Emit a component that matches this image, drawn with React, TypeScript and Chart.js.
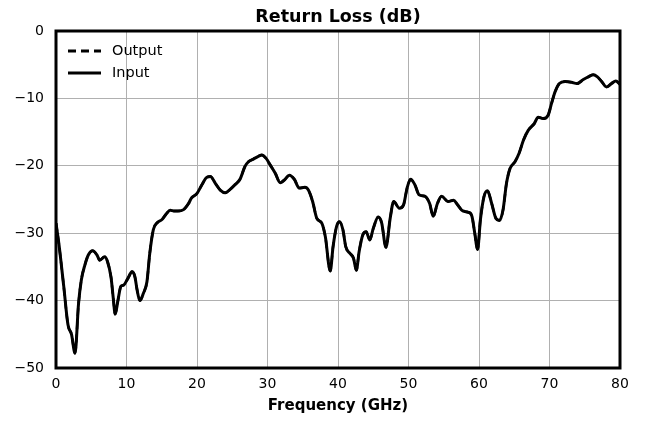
import React, { useEffect, useRef } from "react";
import { Chart, registerables } from "chart.js";

Chart.register(...registerables);

const chartTitle = "Return Loss (dB)";
const xAxisTitle = "Frequency (GHz)";
const seriesNames = ["Output", "Input"];
const xTicks = [0, 10, 20, 30, 40, 50, 60, 70, 80];
const yTicks = [0, -10, -20, -30, -40, -50];

const freq = [
  0, 0.4, 1.1, 1.7, 2.2, 2.7, 3.2, 3.6, 4.1, 4.6, 5.2, 5.8, 6.2, 6.9, 7.3, 7.8, 8.1, 8.4, 8.8, 9.2,
  9.6, 10.2, 10.8, 11.2, 11.5, 11.9, 12.4, 12.9, 13.3, 13.8, 14.4, 15.0, 15.6, 16.2, 16.7, 17.3,
  18.1, 18.8, 19.2, 20.0, 20.7, 21.4, 21.9, 22.6, 23.3, 24.0, 24.7, 25.4, 26.1, 26.8, 27.3, 28.0,
  28.7, 29.2, 29.8, 30.4, 31.1, 31.8, 32.4, 33.1, 33.8, 34.5, 35.3, 35.8, 36.4, 37.0, 37.7, 38.2,
  38.9, 39.3, 39.8, 40.2, 40.7, 41.1, 41.7, 42.2, 42.6, 43.0, 43.5, 44.0, 44.5, 45.0, 45.7, 46.2,
  46.8, 47.4, 47.9, 48.7, 49.3, 49.8, 50.3, 50.9, 51.5, 52.3, 53.0, 53.5, 54.1, 54.7, 55.6, 56.4,
  56.9, 57.7, 58.5, 59.0, 59.4, 59.8, 60.2, 60.7, 61.2, 61.8, 62.4, 62.9, 63.4, 63.9, 64.4, 65.1,
  65.7, 66.3, 67.0, 67.8, 68.4, 69.1, 69.8, 70.3, 70.8, 71.4, 72.2, 73.1, 73.9, 74.8, 75.5, 76.2,
  76.8, 77.4, 78.1, 78.8, 79.4, 80,
];

const inputLoss = [
  -28.5, -31.5, -37.9, -43.6, -45.0, -47.8, -40.4, -36.9, -34.7, -33.2, -32.6, -33.2, -34.0, -33.5,
  -34.2, -36.5, -39.4, -42.0, -39.9, -37.9, -37.7, -36.7, -35.7, -36.5, -38.4, -40.0, -38.9, -37.2,
  -33.0, -29.5, -28.4, -28.0, -27.2, -26.6, -26.7, -26.7, -26.5, -25.6, -24.8, -24.1, -22.8, -21.7,
  -21.6, -22.6, -23.6, -24.0, -23.5, -22.8, -22.0, -20.1, -19.4, -19.0, -18.6, -18.4, -18.9, -19.9,
  -21.1, -22.5, -22.1, -21.4, -22.0, -23.3, -23.2, -23.6, -25.3, -27.8, -28.5, -30.5, -35.6, -32.0,
  -29.0, -28.3, -29.5, -32.0, -33.0, -33.7, -35.5, -32.7, -30.3, -29.8, -31.0, -29.3, -27.6, -28.5,
  -32.1, -27.8, -25.3, -26.3, -25.8, -23.3, -22.0, -22.8, -24.3, -24.5, -25.6, -27.5, -25.6, -24.5,
  -25.3, -25.1, -25.7, -26.7, -26.9, -27.5, -30.0, -32.4, -28.0, -24.6, -23.7, -25.6, -27.8, -28.1,
  -26.6, -22.6, -20.4, -19.4, -18.1, -16.2, -14.7, -13.8, -12.8, -13.0, -12.5, -10.7, -9.0, -7.8,
  -7.5, -7.6, -7.8, -7.2, -6.8, -6.5, -6.8, -7.5, -8.3, -7.8, -7.4, -7.9,
];

// Output trace lies under the Input trace in the reference (not separately visible)
const outputLoss = inputLoss.slice();

const FONT = "'DejaVu Sans', sans-serif";
const fmt = (v: number) => (v < 0 ? "\u2212" + Math.abs(v) : String(v));

export default function App() {
  const ref = useRef<HTMLCanvasElement | null>(null);

  useEffect(() => {
    document.body.style.margin = "0";
    const canvas = ref.current;
    if (!canvas) return;

    const decor = {
      id: "decor",
      afterDatasetsDraw(chart: any) {
        const { ctx, chartArea } = chart;
        const { left, right, top, bottom } = chartArea;
        ctx.save();
        // frame
        ctx.strokeStyle = "#000";
        ctx.lineWidth = 3;
        ctx.setLineDash([]);
        ctx.strokeRect(left, top, right - left, bottom - top);
        // title
        ctx.fillStyle = "#000";
        ctx.textAlign = "center";
        ctx.textBaseline = "middle";
        ctx.font = `bold 17.5px ${FONT}`;
        ctx.fillText(chartTitle, (left + right) / 2, 17);
        // x axis title
        ctx.font = `bold 15px ${FONT}`;
        ctx.fillText(xAxisTitle, (left + right) / 2, 406);
        // legend
        ctx.textAlign = "left";
        ctx.font = `14.5px ${FONT}`;
        const rows = [
          { name: seriesNames[0], dash: [8, 5] },
          { name: seriesNames[1], dash: [] as number[] },
        ];
        rows.forEach((r, i) => {
          const y = top + 20 + i * 22;
          ctx.lineWidth = 3;
          ctx.setLineDash(r.dash);
          ctx.beginPath();
          ctx.moveTo(left + 12, y);
          ctx.lineTo(left + 45, y);
          ctx.stroke();
          ctx.setLineDash([]);
          ctx.fillText(r.name, left + 56, y);
        });
        ctx.restore();
      },
    };

    const chart = new Chart(canvas, {
      type: "line",
      data: {
        datasets: [
          {
            label: seriesNames[0],
            data: freq.map((f, i) => ({ x: f, y: outputLoss[i] })),
            borderColor: "#000",
            borderWidth: 2.5,
            borderDash: [8, 5],
            pointRadius: 0,
            cubicInterpolationMode: "monotone",
            order: 2,
          },
          {
            label: seriesNames[1],
            data: freq.map((f, i) => ({ x: f, y: inputLoss[i] })),
            borderColor: "#000",
            borderWidth: 3,
            pointRadius: 0,
            cubicInterpolationMode: "monotone",
            order: 1,
          },
        ],
      },
      options: {
        responsive: false,
        animation: false,
        layout: { padding: { top: 31, right: 25, left: 0, bottom: 0 } },
        plugins: { legend: { display: false }, title: { display: false }, tooltip: { enabled: false } },
        scales: {
          x: {
            type: "linear",
            min: 0,
            max: 80,
            afterBuildTicks: (s: any) => {
              s.ticks = xTicks.map((v) => ({ value: v }));
            },
            afterFit: (s: any) => {
              s.height = 53;
            },
            grid: { color: "#b0b0b0", lineWidth: 1, drawTicks: false },
            border: { display: false },
            ticks: {
              color: "#000",
              font: { family: FONT, size: 14 },
              padding: 8,
              maxRotation: 0,
              callback: (v: any) => fmt(Number(v)),
            },
          },
          y: {
            type: "linear",
            min: -50,
            max: 0,
            afterBuildTicks: (s: any) => {
              s.ticks = yTicks.map((v) => ({ value: v }));
            },
            afterFit: (s: any) => {
              s.width = 56;
            },
            grid: { color: "#b0b0b0", lineWidth: 1, drawTicks: false },
            border: { display: false },
            ticks: {
              color: "#000",
              font: { family: FONT, size: 14 },
              padding: 12,
              callback: (v: any) => fmt(Number(v)),
            },
          },
        },
      },
      plugins: [decor],
    } as any);

    return () => chart.destroy();
  }, []);

  return (
    <div style={{ width: 645, height: 421, background: "#fff" }}>
      <canvas ref={ref} width={645} height={421} style={{ display: "block" }} />
    </div>
  );
}
